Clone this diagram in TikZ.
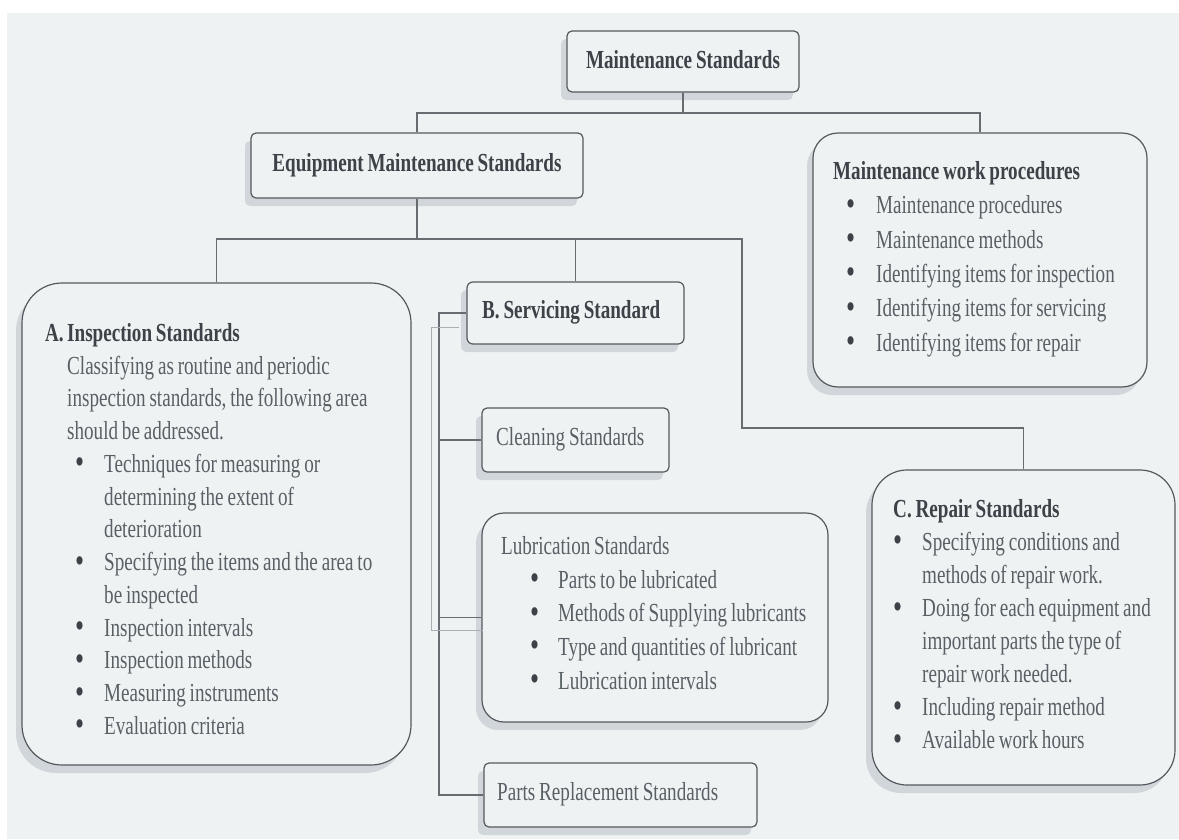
\documentclass[tikz,border=0pt]{standalone}
\usepackage{fontspec}
\setmainfont{Liberation Serif}[FakeStretch=0.735, WordSpace=0.8]
\usetikzlibrary{shadows}
\definecolor{bg}{HTML}{EEF2F3}
\definecolor{boxline}{HTML}{55595D}
\definecolor{connc}{HTML}{676C70}
\definecolor{ghostc}{HTML}{A9AFB4}
\definecolor{headtxt}{HTML}{3C4247}
\definecolor{bodytxt}{HTML}{596065}
\definecolor{shade}{HTML}{B4BBC2}
\newcommand\mydot{\textcolor{headtxt}{\raisebox{-1.5pt}{\scalebox{1.35}{\textbullet}}}}
\newcommand\myb[2]{\hspace*{#1pt}\makebox[#2pt][l]{\mydot}}
\newcommand\myind[1]{\hspace*{#1pt}}
\begin{document}
\begin{tikzpicture}[x=1pt,y=-1pt,
  box/.style={draw=boxline, line width=1.2pt, fill=bg, inner sep=0pt,
    drop shadow={shadow xshift=-6pt, shadow yshift=-8pt, fill=shade, opacity=0.5}},
  connector/.style={draw=connc, line width=1.2pt},
  ghost/.style={draw=ghostc, line width=1pt},
  head/.style={text=headtxt, font=\fontsize{26}{33}\selectfont\bfseries, inner sep=0pt},
  body/.style={text=bodytxt, inner sep=0pt, align=left},
  plain/.style={text=bodytxt, font=\fontsize{26}{33}\selectfont, inner sep=0pt}]
\useasboundingbox (0,0) rectangle (1179,839);
\fill[white] (0,0) rectangle (1179,839);
\fill[bg] (7,13) rectangle (1179,839);

% boxes
\node[box, rounded corners=5pt, minimum width=232pt, minimum height=61pt] (main) at (683,61.5) {};
\node[box, rounded corners=5pt, minimum width=332pt, minimum height=65pt] (equip) at (417,165.5) {};
\node[box, rounded corners=25pt, minimum width=334pt, minimum height=254pt] (mwp) at (980,260) {};
\node[box, rounded corners=40pt, minimum width=389pt, minimum height=482pt] (A) at (216.5,524) {};
\node[box, rounded corners=6pt, minimum width=217pt, minimum height=62pt] (B) at (575.5,313) {};
\node[box, rounded corners=5pt, minimum width=187pt, minimum height=64pt] (clean) at (575.5,440) {};
\node[box, rounded corners=22pt, minimum width=346pt, minimum height=209pt] (lub) at (655,617.5) {};
\node[box, rounded corners=5pt, minimum width=273pt, minimum height=64pt] (parts) at (620.5,795) {};
\node[box, rounded corners=35pt, minimum width=303pt, minimum height=315pt] (C) at (1023.5,627.5) {};

% connectors
\coordinate (bus1) at (0,113);
\coordinate (bus2) at (0,239);
\coordinate (turn) at (742,428);
\coordinate (trunk) at (439,0);
\coordinate (g1) at (459,327);
\coordinate (g2) at (431,327);
\coordinate (g3) at (431,630);
\coordinate (g4) at (483,630);
\draw[connector] (main.south) -- (main.south |- bus1);
\draw[connector] (equip.north) |- (bus1 -| mwp.north) -- (mwp.north);
\draw[connector] (equip.south) -- (equip.south |- bus2);
\draw[connector] (A.north) |- (bus2 -| turn) -- (turn) -| (C.north);
\draw[connector] (B.north) -- (B.north |- bus2);
\draw[connector] (B.west) -- (B.west -| trunk) -- (trunk |- parts.west) -- (parts.west);
\draw[connector] (clean.west) -- (clean.west -| trunk);
\draw[connector] (lub.west) -- (lub.west -| trunk);
\draw[ghost] (g1) -- (g2) -- (g3) -- (g4);

% single-line texts
\node[head, anchor=base] (mainT) at (683,68.5) {Maintenance Standards};
\node[head, anchor=base] (equipT) at (417,171.5) {Equipment Maintenance Standards};
\node[head, anchor=base west] (BT) at (482,318.5) {B. Servicing Standard};
\node[plain, anchor=base west] (cleanT) at (496,445.5) {Cleaning Standards};
\node[plain, anchor=base west] (partsT) at (497,800.5) {Parts Replacement Standards};

% multi-line texts
\node[body, anchor=north west, font=\fontsize{26}{32.75}\selectfont] (AT) at (45,323) {%
{\color{headtxt}\bfseries\makebox[22pt][l]{A.}Inspection Standards}\\
\myind{22}Classifying as routine and periodic\\
\myind{22}inspection standards, the following area\\
\myind{22}should be addressed.\\
\myb{30}{29}Techniques for measuring or\\
\myind{59}determining the extent of\\
\myind{59}deterioration\\
\myb{30}{29}Specifying the items and the area to\\
\myind{59}be inspected\\
\myb{30}{29}Inspection intervals\\
\myb{30}{29}Inspection methods\\
\myb{30}{29}Measuring instruments\\
\myb{30}{29}Evaluation criteria};

\node[body, anchor=north west, font=\fontsize{26}{34.4}\selectfont] (mwpT) at (833,161) {%
{\color{headtxt}\bfseries Maintenance work procedures}\\
\myb{13}{30}Maintenance procedures\\
\myb{13}{30}Maintenance methods\\
\myb{13}{30}Identifying items for inspection\\
\myb{13}{30}Identifying items for servicing\\
\myb{13}{30}Identifying items for repair};

\node[body, anchor=north west, font=\fontsize{26}{33.75}\selectfont] (lubT) at (501,536) {%
Lubrication Standards\\
\myb{29}{28}Parts to be lubricated\\
\myb{29}{28}Methods of Supplying lubricants\\
\myb{29}{28}Type and quantities of lubricant\\
\myb{29}{28}Lubrication intervals};

\node[body, anchor=north west, font=\fontsize{26}{33.1}\selectfont] (CT) at (893,499) {%
{\color{headtxt}\bfseries C. Repair Standards}\\
\myb{0}{29}Specifying conditions and\\
\myind{29}methods of repair work.\\
\myb{0}{29}Doing for each equipment and\\
\myind{29}important parts the type of\\
\myind{29}repair work needed.\\
\myb{0}{29}Including repair method\\
\myb{0}{29}Available work hours};
\end{tikzpicture}
\end{document}
